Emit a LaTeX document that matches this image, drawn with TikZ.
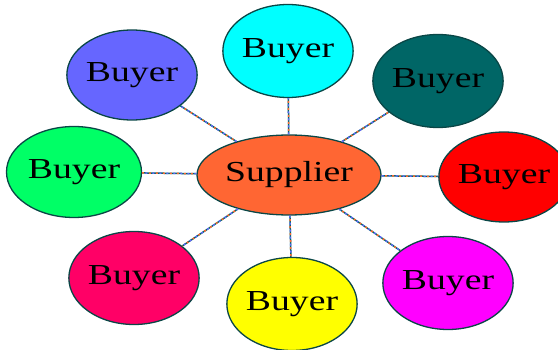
\documentclass[tikz,border=0pt]{standalone}
\usepackage{fontspec}
\setmainfont{Liberation Serif}
\usetikzlibrary{shapes.geometric}
\definecolor{rim}{RGB}{10,70,70}
\definecolor{linkteal}{RGB}{0,102,102}
\definecolor{linkblue}{RGB}{102,102,255}
\definecolor{linkorange}{RGB}{255,102,51}
\definecolor{cBlue}{RGB}{102,102,255}
\definecolor{cCyan}{RGB}{0,255,255}
\definecolor{cTeal}{RGB}{0,102,102}
\definecolor{cRed}{RGB}{255,0,0}
\definecolor{cGreen}{RGB}{0,255,102}
\definecolor{cOrange}{RGB}{255,102,51}
\definecolor{cRose}{RGB}{255,0,102}
\definecolor{cYellow}{RGB}{255,255,0}
\definecolor{cMagenta}{RGB}{255,0,255}
\newcommand{\wide}[1]{\scalebox{1.3}[1]{#1}}
\tikzset{
  party/.style={ellipse, draw=rim, line width=1.3pt, inner sep=0pt,
    minimum width=130pt, minimum height=93pt,
    font=\fontsize{29}{30}\selectfont},
  hub/.style={party, minimum width=184pt, minimum height=80pt},
  link/.style={draw=linkteal, line width=1.5pt,
    postaction={draw=linkblue, line width=1.5pt, dash pattern=on 2pt off 5pt},
    postaction={draw=linkorange, line width=1.5pt, dash pattern=on 2pt off 5pt, dash phase=3.5pt}}
}
\begin{document}
\begin{tikzpicture}[x=1pt, y=-1pt]
\useasboundingbox (0,0) rectangle (558,350);
\clip (0,0) rectangle (558,350);
\node[hub, fill=cOrange] (sup) at (289,175) {\wide{Supplier}};
\node[party, fill=cCyan] (bN) at (288,51) {\wide{Buyer}};
\node[party, fill=cBlue, minimum width=128pt, minimum height=90pt] (bNW) at (132,75) {\wide{Buyer}};
\node[party, fill=cTeal, minimum width=127pt] (bNE) at (438,81) {\wide{Buyer}};
\node[party, fill=cGreen, minimum width=135pt, minimum height=91pt] (bW) at (74,172) {\wide{Buyer}};
\node[party, fill=cRed, minimum width=128pt, minimum height=90pt] (bE) at (504,177) {\wide{Buyer}};
\node[party, fill=cRose, minimum width=128pt] (bSW) at (134,278) {\wide{Buyer}};
\node[party, fill=cYellow] (bS) at (292,304) {\wide{Buyer}};
\node[party, fill=cMagenta] (bSE) at (448,283) {\wide{Buyer}};
\foreach \b in {bN,bNW,bNE,bW,bE,bSW,bS,bSE}
  \draw[link] (sup) -- (\b);
\end{tikzpicture}
\end{document}
